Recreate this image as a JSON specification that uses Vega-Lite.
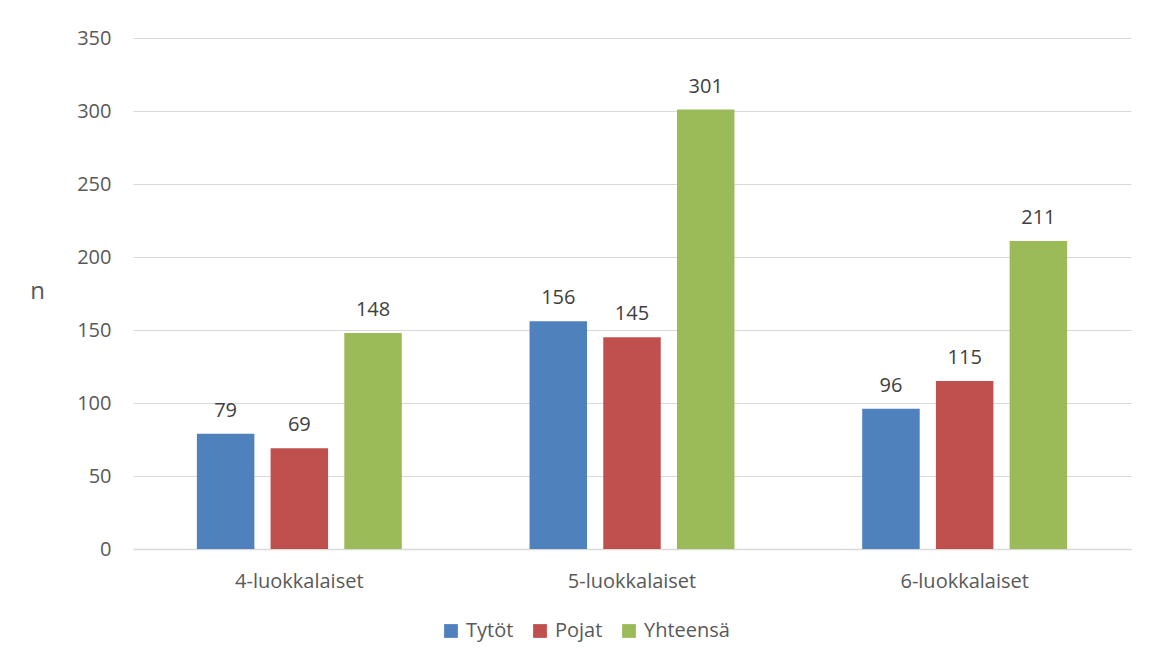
{
  "$schema": "https://vega.github.io/schema/vega-lite/v6.json",
  "width": 998,
  "height": 511,
  "autosize": {"type": "none"},
  "padding": {"left": 133, "top": 38, "right": 19, "bottom": 119},
  "background": "white",
  "config": {
    "font": "Open Sans",
    "view": {"stroke": null}
  },
  "data": {
    "values": [
      {"luokka": "4-luokkalaiset", "ryhma": "Tytöt", "n": 79},
      {"luokka": "4-luokkalaiset", "ryhma": "Pojat", "n": 69},
      {"luokka": "4-luokkalaiset", "ryhma": "Yhteensä", "n": 148},
      {"luokka": "5-luokkalaiset", "ryhma": "Tytöt", "n": 156},
      {"luokka": "5-luokkalaiset", "ryhma": "Pojat", "n": 145},
      {"luokka": "5-luokkalaiset", "ryhma": "Yhteensä", "n": 301},
      {"luokka": "6-luokkalaiset", "ryhma": "Tytöt", "n": 96},
      {"luokka": "6-luokkalaiset", "ryhma": "Pojat", "n": 115},
      {"luokka": "6-luokkalaiset", "ryhma": "Yhteensä", "n": 211}
    ]
  },
  "encoding": {
    "x": {
      "field": "luokka",
      "type": "nominal",
      "sort": null,
      "scale": {"paddingInner": 0.384, "paddingOuter": 0.192},
      "axis": {
        "title": null,
        "labelAngle": 0,
        "labelFontSize": 20,
        "labelColor": "#595959",
        "labelPadding": 22,
        "ticks": false,
        "domain": true,
        "domainColor": "#d9d9d9",
        "domainWidth": 1.5
      }
    },
    "xOffset": {
      "field": "ryhma",
      "type": "nominal",
      "sort": ["Tytöt", "Pojat", "Yhteensä"],
      "scale": {"paddingInner": 0.22, "paddingOuter": 0}
    },
    "y": {
      "field": "n",
      "type": "quantitative",
      "scale": {"domain": [0, 350], "nice": false},
      "axis": {
        "title": "n",
        "titleAngle": 0,
        "titleFontSize": 24,
        "titleFontWeight": "normal",
        "titleColor": "#595959",
        "titleX": -96,
        "titleY": 265,
        "titleAlign": "center",
        "values": [0, 50, 100, 150, 200, 250, 300, 350],
        "labelFontSize": 20,
        "labelColor": "#595959",
        "labelPadding": 22,
        "ticks": false,
        "domain": false,
        "gridColor": "#d9d9d9",
        "gridWidth": 1.2
      }
    }
  },
  "layer": [
    {
      "mark": {"type": "bar"},
      "encoding": {
        "color": {
          "field": "ryhma",
          "type": "nominal",
          "sort": ["Tytöt", "Pojat", "Yhteensä"],
          "scale": {
            "domain": ["Tytöt", "Pojat", "Yhteensä"],
            "range": ["#4F81BD", "#C0504D", "#9BBB59"]
          },
          "legend": {
            "title": null,
            "orient": "none",
            "direction": "horizontal",
            "legendX": 308,
            "legendY": 583,
            "symbolType": "square",
            "symbolSize": 190,
            "symbolStrokeWidth": 0,
            "labelFontSize": 20,
            "labelColor": "#595959",
            "labelOffset": 5,
            "columnPadding": 16
          }
        }
      }
    },
    {
      "mark": {"type": "text", "dy": -17, "baseline": "alphabetic", "fontSize": 20, "color": "#404040"},
      "encoding": {
        "text": {"field": "n", "type": "quantitative"}
      }
    }
  ]
}
